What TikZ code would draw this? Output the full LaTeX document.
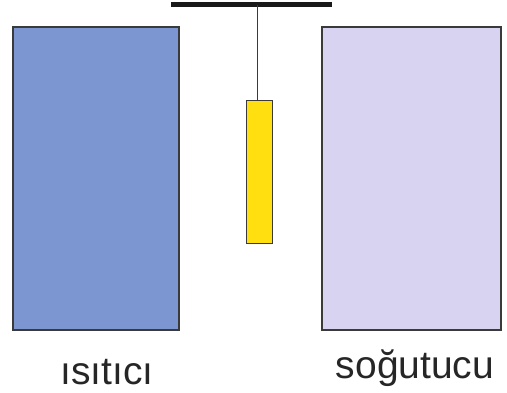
\documentclass[tikz,border=0pt]{standalone}
\usepackage{fontspec}
\setmainfont{Liberation Sans}
\definecolor{heaterblue}{HTML}{7B96D1}
\definecolor{coolerlilac}{HTML}{D9D3F2}
\definecolor{probeyellow}{HTML}{FFDF10}
\definecolor{edgegray}{HTML}{3A3A3A}
\begin{document}
\begin{tikzpicture}[x=1pt,y=-1pt,
  block/.style={draw=edgegray,line width=1.2pt},
  label/.style={anchor=base,inner sep=0pt,font=\fontsize{39}{44}\selectfont,text=black!85}]
\useasboundingbox (0,0) rectangle (507,392);
% heater and cooler plates
\draw[block,fill=heaterblue] (13,27) rectangle (179,330);
\draw[block,fill=coolerlilac] (322,27) rectangle (501,330);
% support bar with hanging probe
\draw[line width=4.2pt,black!90] (171,4.5) coordinate (barL) -- (332,4.5) coordinate (barR);
\coordinate (hook) at (257.5,4.5);
\node[block,fill=probeyellow,minimum width=26pt,minimum height=143pt,inner sep=0pt,anchor=north] (probe) at (259.5,100) {};
\draw[edgegray,line width=1.1pt] (hook) -- (hook |- probe.north);
% labels
\node[label] (heater) at (107,384) {ısıtıcı};
\node[label] (cooler) at (415,378) {soğutucu};
\end{tikzpicture}
\end{document}
